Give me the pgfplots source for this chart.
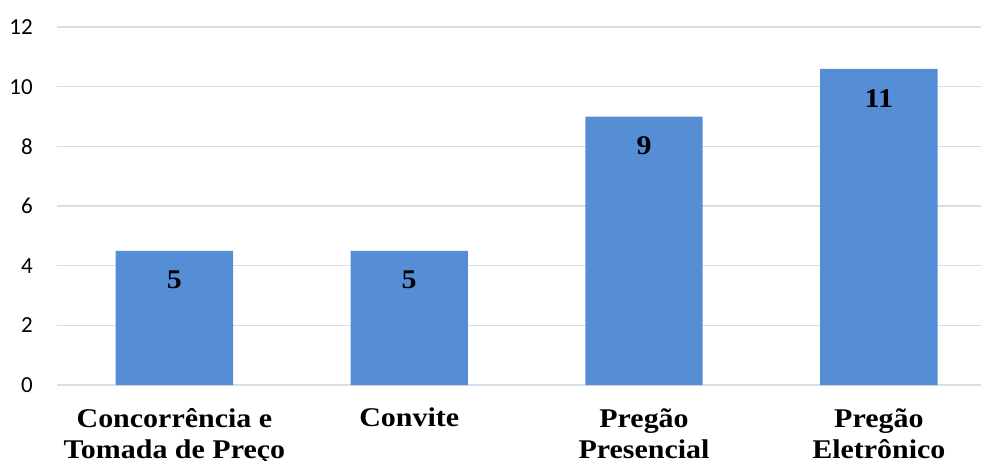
\documentclass[border=0pt]{standalone}
\usepackage{pgfplots}
\pgfplotsset{compat=1.18}
\usepackage{fontspec}
\setmainfont{Carlito}
\newfontfamily\labfont[FakeStretch=1.11]{Liberation Serif}
\definecolor{barblue}{RGB}{85,142,213}
\definecolor{gridc}{RGB}{217,221,230}
\begin{document}
\begin{tikzpicture}
\begin{axis}[
  scale only axis, width=924pt, height=358pt,
  xmin=-0.5, xmax=3.435, ymin=0, ymax=12,
  ytick={0,2,...,12},
  xtick={0,1,2,3},
  xticklabels={{Concorrência e\\Tomada de Preço},{Convite},{Pregão\\Presencial},{Pregão\\Eletrônico}},
  ymajorgrids, grid style={gridc, line width=1.2pt},
  axis line style={draw=none},
  major tick length=0pt,
  /pgf/number format/assume math mode=true,
  yticklabel style={font=\fontsize{23}{27}\selectfont, anchor=east, inner sep=0pt, xshift=-24pt},
  xticklabel style={font=\labfont\bfseries\fontsize{27}{31}\selectfont, align=center, anchor=north, inner sep=0pt, yshift=-23pt},
  ybar, bar width=0.5,
]
\addplot[fill=barblue, draw=none, nodes near coords, point meta=explicit symbolic,
  every node near coord/.append style={anchor=center, yshift=-29.5pt, inner sep=0pt, font=\labfont\bfseries\fontsize{27}{31}\selectfont, text=black}]
  table[meta=lab] {
x y lab
0 4.5 5
1 4.5 5
2 9 9
3 10.6 11
};
\coordinate (sw) at (rel axis cs:0,0);
\coordinate (ne) at (rel axis cs:1,1);
\end{axis}
\pgfresetboundingbox
\path ([shift={(-57pt,-76pt)}]sw) rectangle ([shift={(0pt,27pt)}]ne);
\end{tikzpicture}
\end{document}
